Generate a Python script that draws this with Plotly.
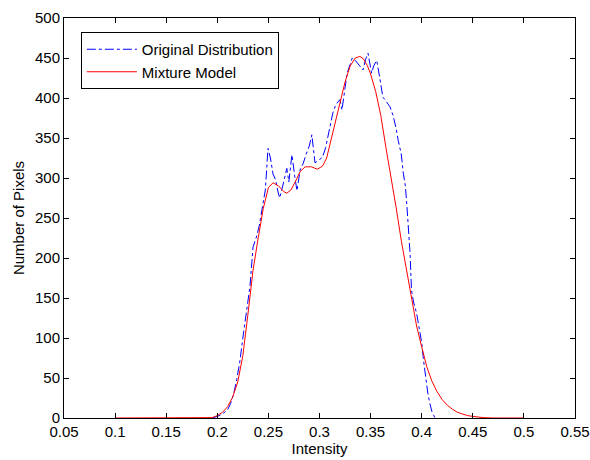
import plotly.graph_objects as go

# Mixture model (red)
model_x = [0.10, 0.15, 0.19, 0.195, 0.20, 0.205, 0.21, 0.215, 0.22, 0.225, 0.23, 0.235, 0.24, 0.245,
           0.25, 0.2545, 0.26, 0.265, 0.268, 0.272, 0.277, 0.281, 0.286, 0.292, 0.298, 0.303, 0.307,
           0.313, 0.32, 0.325, 0.33, 0.335, 0.3395, 0.343, 0.347, 0.35, 0.355, 0.36, 0.365, 0.37,
           0.375, 0.38, 0.385, 0.39, 0.395, 0.40, 0.405, 0.41, 0.415, 0.42, 0.425, 0.43, 0.435,
           0.44, 0.445, 0.45, 0.46, 0.47, 0.50]
model_y = [0, 0, 0, 0.5, 3, 7, 14, 26, 45, 78, 130, 185, 225, 262,
           288, 294, 290, 283, 281, 285, 297, 308, 314, 314, 311, 315, 325,
           358, 394, 420, 440, 450, 452, 449, 440, 430, 408, 378, 338, 302,
           263, 222, 186, 150, 115, 89, 64, 46, 33, 23, 16, 11, 7,
           5, 3, 2, 0.5, 0, 0]

# Original distribution (blue)
orig_x = [0.195, 0.20, 0.205, 0.21, 0.213, 0.216, 0.219, 0.222, 0.225, 0.228, 0.232, 0.235, 0.238,
          0.241, 0.244, 0.247, 0.2496, 0.252, 0.2545, 0.257, 0.259, 0.261, 0.264, 0.266, 0.268,
          0.270, 0.273, 0.276, 0.278, 0.281, 0.284, 0.287, 0.290, 0.2925, 0.2956, 0.299, 0.303,
          0.306, 0.308, 0.311, 0.313, 0.316, 0.318, 0.320, 0.322, 0.325, 0.327, 0.330, 0.332,
          0.335, 0.337, 0.340, 0.3426, 0.345, 0.3475, 0.349, 0.351, 0.353, 0.356, 0.359, 0.362,
          0.364, 0.367, 0.369, 0.372, 0.375, 0.377, 0.380, 0.382, 0.384, 0.3856, 0.3886, 0.390,
          0.392, 0.395, 0.398, 0.400, 0.402, 0.404, 0.406, 0.408, 0.410, 0.413]
orig_y = [0, 2, 5, 10, 18, 30, 48, 70, 100, 130, 165, 214, 225,
          240, 262, 285, 337, 325, 305, 298, 285, 275, 290, 300, 312,
          295, 329, 300, 284, 310, 318, 330, 340, 354, 319, 322, 326,
          338, 351, 370, 381, 392, 395, 398, 385, 410, 431, 442, 450,
          447, 444, 440, 435, 448, 456, 445, 431, 440, 447, 425, 401,
          398, 393, 389, 378, 362, 347, 330, 306, 290, 264, 206, 160,
          145, 131, 110, 94, 70, 50, 31, 18, 8, 0]

x_ticks = [0.05, 0.1, 0.15, 0.2, 0.25, 0.3, 0.35, 0.4, 0.45, 0.5, 0.55]
x_tick_labels = ["0.05", "0.1", "0.15", "0.2", "0.25", "0.3", "0.35", "0.4", "0.45", "0.5", "0.55"]
y_ticks = [0, 50, 100, 150, 200, 250, 300, 350, 400, 450, 500]

fig = go.Figure()
fig.add_trace(go.Scatter(x=orig_x, y=orig_y, mode="lines", name="Original Distribution",
                         line=dict(color="#0000ff", width=1, dash="dashdot")))
fig.add_trace(go.Scatter(x=model_x, y=model_y, mode="lines", name="Mixture Model",
                         line=dict(color="#ff0000", width=1)))

font = dict(family="Liberation Sans, Arial, sans-serif", size=15, color="#000000")
axis_common = dict(showgrid=False, zeroline=False, showline=True, linecolor="#000000", linewidth=1,
                   mirror="ticks", ticks="inside", ticklen=5, tickcolor="#000000", tickfont=font,
                   automargin=False)

fig.update_layout(
    width=590, height=460,
    margin=dict(l=64, r=15, t=18, b=42),
    paper_bgcolor="#ffffff", plot_bgcolor="#ffffff",
    font=font,
    xaxis=dict(range=[0.05, 0.55], tickvals=x_ticks, ticktext=x_tick_labels,
               title=dict(text="Intensity", font=font, standoff=0), **axis_common),
    yaxis=dict(range=[0, 500], tickvals=y_ticks,
               title=dict(text="Number of Pixels", font=font, standoff=6), **axis_common),
    legend=dict(x=0.033, y=0.965, xanchor="left", yanchor="top", bgcolor="#ffffff",
                bordercolor="#000000", borderwidth=1, font=font, itemwidth=50),
    showlegend=True,
)

fig.write_html("out.html", config={"displayModeBar": False},
               post_script="document.body.style.margin='0';document.body.style.overflow='hidden';")
